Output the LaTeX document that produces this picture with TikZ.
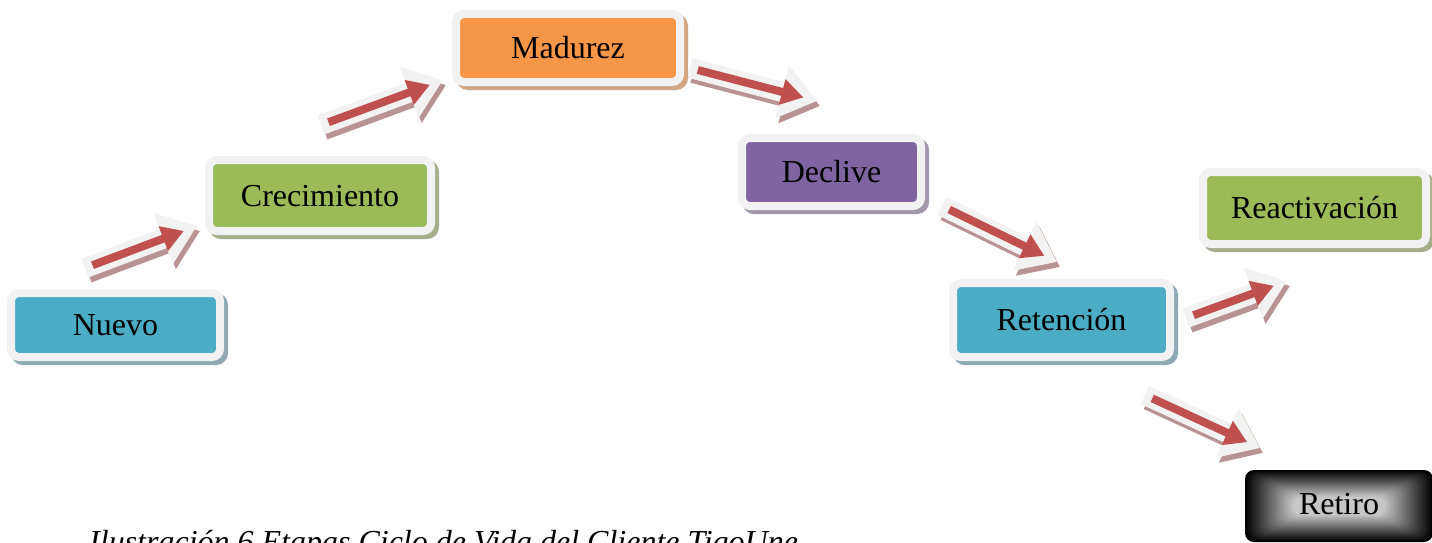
\documentclass[tikz,border=0pt]{standalone}
\usepackage{fontspec}
\setmainfont{Liberation Serif}
\usetikzlibrary{arrows.meta,calc,shadows}
\definecolor{cwhite}{HTML}{F2F2F2}
\definecolor{cblue}{HTML}{4BACC6}
\definecolor{cgreen}{HTML}{9BBB59}
\definecolor{corange}{HTML}{F79646}
\definecolor{cpurple}{HTML}{8064A2}
\definecolor{sblue}{HTML}{8EA9B1}
\definecolor{sgreen}{HTML}{A7AE8C}
\definecolor{sorange}{HTML}{D2A683}
\definecolor{spurple}{HTML}{A198AC}
\definecolor{cred}{HTML}{C0504D}
\definecolor{sred}{HTML}{B99393}
\tikzset{
  stagebox/.style n args={4}{draw=cwhite, line width=8pt, fill=#1, rounded corners=8pt,
    minimum width=#3, minimum height=#4, inner sep=0pt,
    font=\fontsize{32}{38}\selectfont, text height=21pt, text depth=0pt,
    drop shadow={shadow xshift=4pt, shadow yshift=-4pt, opacity=1, fill=#2, draw=#2, line width=8pt}},
  arrshadow/.style={draw=sred, line width=20pt, -{Triangle[length=36pt,width=52pt]}},
  arrwhite/.style={draw=cwhite, line width=20pt, -{Triangle[length=36pt,width=52pt]}},
  arrred/.style={draw=cred, line width=8pt, -{Triangle[length=22pt,width=25pt]}},
}
\newcommand\blkarrow[2]{%
  \draw[arrshadow] ([shift={(3,5)}]#1) -- ([shift={(3,5)}]#2);
  \draw[arrwhite] (#1) -- (#2);
  \draw[arrred] ($(#1)!8pt!(#2)$) -- ($(#2)!14pt!(#1)$);
}
\begin{document}
\begin{tikzpicture}[x=1pt,y=-1pt]
\useasboundingbox (0,0) rectangle (1432,543);
\clip (0,0) rectangle (1432,543);
\fill[white] (0,0) rectangle (1432,543);
% arrows
\coordinate (a1s) at (85,268);   \coordinate (a1e) at (197,226);
\coordinate (a2s) at (321,125);  \coordinate (a2e) at (443,80);
\coordinate (a3s) at (690,68);   \coordinate (a3e) at (817,101);
\coordinate (a4s) at (942,206);  \coordinate (a4e) at (1057,262);
\coordinate (a5s) at (1186,318); \coordinate (a5e) at (1287,281);
\coordinate (a6s) at (1145,395); \coordinate (a6e) at (1260,448);
\blkarrow{a1s}{a1e}
\blkarrow{a2s}{a2e}
\blkarrow{a3s}{a3e}
\blkarrow{a4s}{a4e}
\blkarrow{a5s}{a5e}
\blkarrow{a6s}{a6e}
% boxes
\node[stagebox={cblue}{sblue}{209pt}{64pt}] (nuevo) at (115.5,325) {Nuevo};
\node[stagebox={cgreen}{sgreen}{222pt}{71pt}] (crec) at (320,195.5) {Crecimiento};
\node[stagebox={corange}{sorange}{224pt}{68pt}] (madurez) at (568,48) {Madurez};
\node[stagebox={cpurple}{spurple}{179pt}{68pt}] (declive) at (831.5,172) {Declive};
\node[stagebox={cblue}{sblue}{217pt}{74pt}] (retencion) at (1061.5,320) {Retención};
\node[stagebox={cgreen}{sgreen}{223pt}{72pt}] (reactiv) at (1314.5,208) {Reactivación};
% Retiro with box-like gradient
\fill[black, rounded corners=9pt] (1245,470) rectangle (1433,542);
\foreach \i in {1,...,30}{
  \pgfmathsetmacro\dx{\i*1.6}
  \pgfmathsetmacro\dy{\i*0.9}
  \pgfmathsetmacro\shade{100-\i*2.6}
  \fill[black!\shade, rounded corners=9pt] (1245+\dx,470+\dy) rectangle (1433-\dx,542-\dy);
}
\node[inner sep=0pt, minimum width=188pt, minimum height=72pt,
  font=\fontsize{32}{38}\selectfont, text height=21pt, text depth=0pt] (retiro) at (1339,504) {Retiro};
% caption
\node[anchor=base west, inner sep=0pt, font=\fontsize{32}{38}\selectfont\itshape] (caption) at (89,552)
  {Ilustración 6 Etapas Ciclo de Vida del Cliente TigoUne};
\end{tikzpicture}
\end{document}
